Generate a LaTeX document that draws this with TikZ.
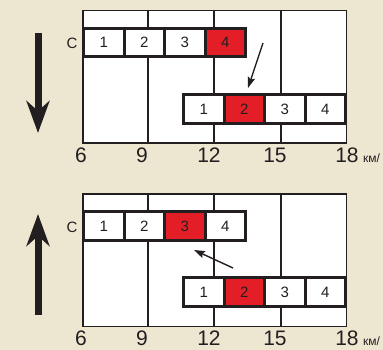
\documentclass[tikz,border=0pt]{standalone}
\usepackage{fontspec}
\setmainfont{Liberation Sans}
\usetikzlibrary{arrows.meta}
\definecolor{bg}{HTML}{EDE7D1}
\definecolor{cellred}{HTML}{E31E26}
\definecolor{ink}{HTML}{231F20}
\begin{document}
\begin{tikzpicture}[x=1pt,y=-1pt,
  cell/.style={draw=ink, line width=3pt, fill=white, minimum width=40.5pt, minimum height=28.5pt,
    inner sep=0pt, font=\fontsize{15}{15}\selectfont, text=ink},
  redcell/.style={cell, fill=cellred},
  framebox/.style={draw=ink, line width=1.5pt, fill=white},
  gridline/.style={draw=ink, line width=1.5pt},
  axislabel/.style={font=\fontsize{21}{21}\selectfont, text=ink, anchor=base, inner sep=0pt},
  unitlabel/.style={font=\fontsize{12}{12}\selectfont, text=ink, anchor=base west, inner sep=0pt},
  rowlabel/.style={font=\fontsize{15}{15}\selectfont, text=ink, inner sep=0pt},
  bigarrow/.style={draw=ink, line width=7pt, -{Stealth[length=32pt, width=23pt, inset=10pt]}},
  smallarrow/.style={draw=ink, line width=1.4pt, -{Stealth[length=11pt, width=7.5pt, inset=2pt]}}
]
\fill[bg] (0,0) rectangle (383,350);
\useasboundingbox (0,0) rectangle (383,350);

% ---------- top panel ----------
\draw[framebox] (82.75,10.75) rectangle (346.25,143.25);
\foreach \gx in {148,214,281} \draw[gridline] (\gx,10.75) -- (\gx,143.25);
\node[rowlabel] (c1) at (72,43) {C};
\node[cell] (t1) at (103.75,42.5) {1};
\node[cell] (t2) at (144.25,42.5) {2};
\node[cell] (t3) at (184.75,42.5) {3};
\node[redcell] (t4) at (225.25,42.5) {4};
\node[cell] (u1) at (203.75,109) {1};
\node[redcell] (u2) at (244.25,109) {2};
\node[cell] (u3) at (284.75,109) {3};
\node[cell] (u4) at (325.25,109) {4};
\coordinate (sa1) at (263,43);
\coordinate (sb1) at (248,88);
\draw[smallarrow] (sa1) -- (sb1);
\coordinate (ba1) at (38,33);
\coordinate (bb1) at (38,133);
\draw[bigarrow] (ba1) -- (bb1);
\node[axislabel] (x6a) at (81,163) {6};
\node[axislabel] (x9a) at (142,163) {9};
\node[axislabel] (x12a) at (209,163) {12};
\node[axislabel] (x15a) at (275,163) {15};
\node[axislabel] (x18a) at (347,163) {18};
\node[unitlabel] (kma) at (363,163) {км/};

% ---------- bottom panel ----------
\draw[framebox] (82.75,193.75) rectangle (346.25,326.25);
\foreach \gx in {148,214,281} \draw[gridline] (\gx,193.75) -- (\gx,326.25);
\node[rowlabel] (c2) at (72,227) {C};
\node[cell] (v1) at (103.75,226) {1};
\node[cell] (v2) at (144.25,226) {2};
\node[redcell] (v3) at (184.75,226) {3};
\node[cell] (v4) at (225.25,226) {4};
\node[cell] (w1) at (203.75,292) {1};
\node[redcell] (w2) at (244.25,292) {2};
\node[cell] (w3) at (284.75,292) {3};
\node[cell] (w4) at (325.25,292) {4};
\coordinate (sa2) at (233,268);
\coordinate (sb2) at (194,250);
\draw[smallarrow] (sa2) -- (sb2);
\coordinate (ba2) at (38,315);
\coordinate (bb2) at (38,214);
\draw[bigarrow] (ba2) -- (bb2);
\node[axislabel] (x6b) at (81,345.5) {6};
\node[axislabel] (x9b) at (142,345.5) {9};
\node[axislabel] (x12b) at (209,345.5) {12};
\node[axislabel] (x15b) at (275,345.5) {15};
\node[axislabel] (x18b) at (347,345.5) {18};
\node[unitlabel] (kmb) at (363,345.5) {км/};
\end{tikzpicture}
\end{document}
